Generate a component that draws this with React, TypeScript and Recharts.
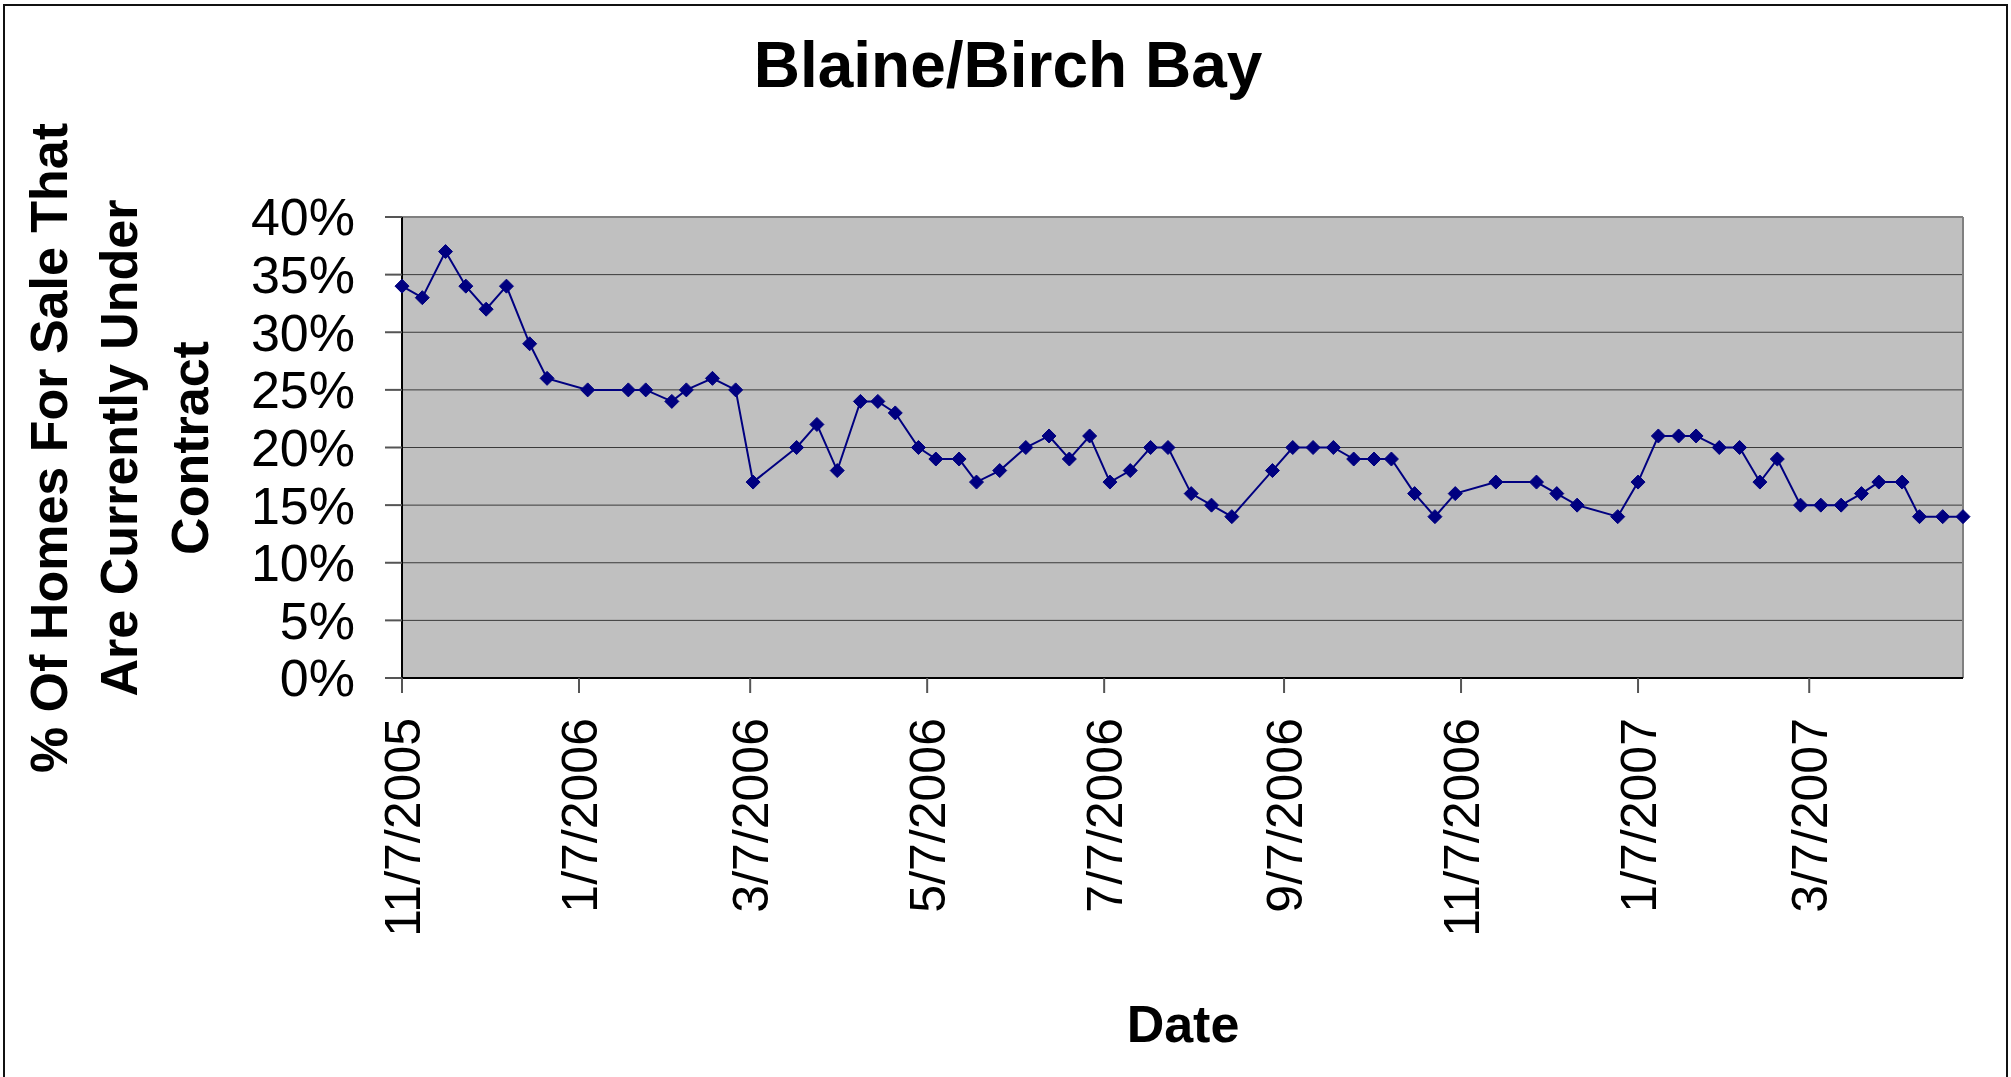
import React from "react";
import {
  LineChart,
  Line,
  XAxis,
  YAxis,
  CartesianGrid,
  ReferenceLine,
} from "recharts";

const FONT = "'Liberation Sans', Arial, sans-serif";

// week-ish sample dates
const dates = [
  "2005-11-07", "2005-11-14", "2005-11-22", "2005-11-29", "2005-12-06",
  "2005-12-13", "2005-12-21", "2005-12-27", "2006-01-10", "2006-01-24",
  "2006-01-30", "2006-02-08", "2006-02-13", "2006-02-22", "2006-03-02",
  "2006-03-08", "2006-03-23", "2006-03-30", "2006-04-06", "2006-04-14",
  "2006-04-20", "2006-04-26", "2006-05-04", "2006-05-10", "2006-05-18",
  "2006-05-24", "2006-06-01", "2006-06-10", "2006-06-18", "2006-06-25",
  "2006-07-02", "2006-07-09", "2006-07-16", "2006-07-23", "2006-07-29",
  "2006-08-06", "2006-08-13", "2006-08-20", "2006-09-03", "2006-09-10",
  "2006-09-17", "2006-09-24", "2006-10-01", "2006-10-08", "2006-10-14",
  "2006-10-22", "2006-10-29", "2006-11-05", "2006-11-19", "2006-12-03",
  "2006-12-10", "2006-12-17", "2006-12-31", "2007-01-07", "2007-01-14",
  "2007-01-21", "2007-01-27", "2007-02-04", "2007-02-11", "2007-02-18",
  "2007-02-24", "2007-03-04", "2007-03-11", "2007-03-18", "2007-03-25",
  "2007-03-31", "2007-04-08", "2007-04-14", "2007-04-22", "2007-04-29",
];

// % of homes for sale under contract
const pctUnderContract = [
  34, 33, 37, 34, 32, 34, 29, 26, 25, 25,
  25, 24, 25, 26, 25, 17, 20, 22, 18, 24,
  24, 23, 20, 19, 19, 17, 18, 20, 21, 19,
  21, 17, 18, 20, 20, 16, 15, 14, 18, 20,
  20, 20, 19, 19, 19, 16, 14, 16, 17, 17,
  16, 15, 14, 17, 21, 21, 21, 20, 20, 17,
  19, 15, 15, 15, 16, 17, 17, 14, 14, 14,
];

const xTickDates = [
  "2005-11-07", "2006-01-07", "2006-03-07", "2006-05-07", "2006-07-07",
  "2006-09-07", "2006-11-07", "2007-01-07", "2007-03-07",
];

const yTicks = [0, 0.05, 0.1, 0.15, 0.2, 0.25, 0.3, 0.35, 0.4];

const toTime = (d: string) => new Date(d + "T00:00:00Z").getTime();

const data = dates.map((d, i) => ({
  t: toTime(d),
  v: pctUnderContract[i] / 100,
}));

const fmtDate = (t: number) => {
  const d = new Date(t);
  return `${d.getUTCMonth() + 1}/${d.getUTCDate()}/${d.getUTCFullYear()}`;
};

const DateTick = (props: any) => {
  const { x, y, payload } = props;
  return (
    <text
      x={x}
      y={y}
      transform={`rotate(-90, ${x}, ${y})`}
      textAnchor="end"
      dy="0.36em"
      fontSize={50}
      fontFamily={FONT}
      fill="#000"
    >
      {fmtDate(payload.value)}
    </text>
  );
};

const Diamond = (props: any) => {
  const { cx, cy } = props;
  if (cx == null || cy == null) return null;
  const r = 7;
  return (
    <polygon
      points={`${cx},${cy - r} ${cx + r},${cy} ${cx},${cy + r} ${cx - r},${cy}`}
      fill="#000080"
      stroke="#000080"
      strokeWidth={1}
    />
  );
};

const App = () => {
  const first = data[0].t;
  const last = data[data.length - 1].t;
  return (
    <div
      style={{
        position: "absolute",
        left: 0,
        top: 0,
        width: 2011,
        height: 1077,
        overflow: "hidden",
        background: "#fff",
      }}
    >
      <div
        style={{
          position: "absolute",
          left: 3,
          top: 4,
          width: 2005,
          height: 1100,
          border: "2px solid #111",
          boxSizing: "border-box",
        }}
      />
      <div style={{ position: "absolute", left: 0, top: 0 }}>
        <LineChart
          width={2011}
          height={1077}
          data={data}
          margin={{ top: 217, right: 48, bottom: 0, left: 0 }}
        >
          <CartesianGrid
            vertical={false}
            fill="#C0C0C0"
            fillOpacity={1}
            stroke="#3a3a3a"
            strokeWidth={1}
          />
          <XAxis
            dataKey="t"
            type="number"
            domain={[first, last]}
            ticks={xTickDates.map(toTime)}
            height={399}
            tickSize={15}
            tickMargin={25}
            tick={<DateTick />}
            axisLine={{ stroke: "#000", strokeWidth: 2 }}
            tickLine={{ stroke: "#555", strokeWidth: 2 }}
            interval={0}
          />
          <YAxis
            type="number"
            domain={[0, 0.4]}
            ticks={yTicks}
            width={402}
            tickSize={17}
            tickMargin={30}
            tickFormatter={(v: number) => `${Math.round(v * 100)}%`}
            tick={{ fontSize: 52, fontFamily: FONT, fill: "#000" }}
            axisLine={{ stroke: "#000", strokeWidth: 2 }}
            tickLine={{ stroke: "#555", strokeWidth: 2 }}
            interval={0}
          />
          <ReferenceLine y={0.4} stroke="#808080" strokeWidth={2} />
          <ReferenceLine x={last} stroke="#808080" strokeWidth={2} />
          <Line
            type="linear"
            dataKey="v"
            stroke="#000080"
            strokeWidth={2}
            dot={<Diamond />}
            activeDot={false}
            isAnimationActive={false}
          />
        </LineChart>
      </div>
      <svg
        width={2011}
        height={1077}
        style={{ position: "absolute", left: 0, top: 0, pointerEvents: "none" }}
      >
        <text
          x={1008}
          y={87}
          textAnchor="middle"
          fontSize={64}
          fontWeight="bold"
          fontFamily={FONT}
          fill="#000"
        >
          Blaine/Birch Bay
        </text>
        {[
          { t: "% Of Homes For Sale That", x: 67 },
          { t: "Are Currently Under", x: 137 },
          { t: "Contract", x: 208 },
        ].map((l) => (
          <text
            key={l.t}
            x={l.x}
            y={448}
            transform={`rotate(-90, ${l.x}, 448)`}
            textAnchor="middle"
            fontSize={52}
            fontWeight="bold"
            fontFamily={FONT}
            fill="#000"
          >
            {l.t}
          </text>
        ))}
        <text
          x={1183}
          y={1042}
          textAnchor="middle"
          fontSize={52}
          fontWeight="bold"
          fontFamily={FONT}
          fill="#000"
        >
          Date
        </text>
      </svg>
    </div>
  );
};

export default App;
